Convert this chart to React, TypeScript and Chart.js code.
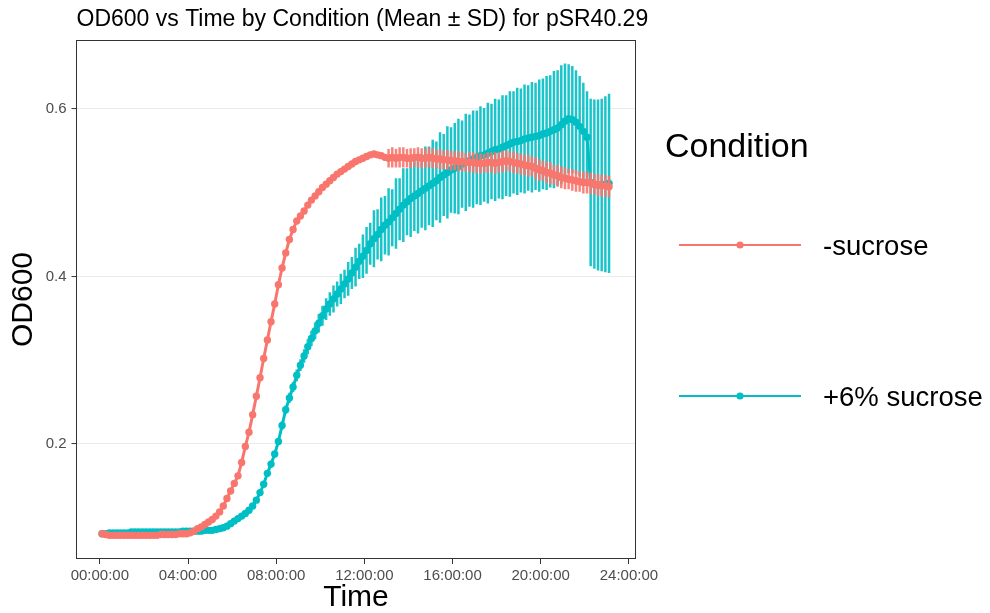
import React, { useEffect, useRef } from "react";
import { Chart, registerables } from "chart.js";

Chart.register(...registerables);

// ---- data (time in minutes since start, sampled every 10 min) ----
const TIME_MIN = [
  6, 16, 26, 36, 46, 56,
  66, 76, 86, 96, 106, 116,
  126, 136, 146, 156, 166, 176,
  186, 196, 206, 216, 226, 236,
  246, 256, 266, 276, 286, 296,
  306, 316, 326, 336, 346, 356,
  366, 376, 386, 396, 406, 416,
  426, 436, 446, 456, 466, 476,
  486, 496, 506, 516, 526, 536,
  546, 556, 566, 576, 586, 596,
  606, 616, 626, 636, 646, 656,
  666, 676, 686, 696, 706, 716,
  726, 736, 746, 756, 766, 776,
  786, 796, 806, 816, 826, 836,
  846, 856, 866, 876, 886, 896,
  906, 916, 926, 936, 946, 956,
  966, 976, 986, 996, 1006, 1016,
  1026, 1036, 1046, 1056, 1066, 1076,
  1086, 1096, 1106, 1116, 1126, 1136,
  1146, 1156, 1166, 1176, 1186, 1196,
  1206, 1216, 1226, 1236, 1246, 1256,
  1266, 1276, 1286, 1296, 1306, 1316,
  1326, 1336, 1346, 1356, 1366, 1376,
  1386,
];

const RED_MEAN = [
  0.093, 0.092, 0.091, 0.091, 0.091, 0.091,
  0.091, 0.091, 0.091, 0.091, 0.091, 0.091,
  0.091, 0.091, 0.091, 0.091, 0.092, 0.092,
  0.092, 0.092, 0.092, 0.093, 0.093, 0.093,
  0.094, 0.096, 0.099, 0.101, 0.104, 0.107,
  0.110, 0.114, 0.119, 0.126, 0.135, 0.144,
  0.153, 0.162, 0.178, 0.197, 0.214, 0.235,
  0.257, 0.279, 0.302, 0.324, 0.346, 0.367,
  0.390, 0.410, 0.428, 0.444, 0.456, 0.466,
  0.472, 0.478, 0.485, 0.491, 0.496, 0.501,
  0.506, 0.510, 0.514, 0.518, 0.522, 0.525,
  0.528, 0.531, 0.534, 0.537, 0.539, 0.541,
  0.543, 0.545, 0.546, 0.545, 0.544, 0.542,
  0.541, 0.542, 0.541, 0.542, 0.542, 0.541,
  0.541, 0.542, 0.542, 0.541, 0.541, 0.542,
  0.541, 0.540, 0.540, 0.539, 0.539, 0.538,
  0.538, 0.537, 0.537, 0.536, 0.536, 0.536,
  0.535, 0.535, 0.535, 0.536, 0.536, 0.535,
  0.536, 0.537, 0.538, 0.537, 0.536, 0.535,
  0.534, 0.533, 0.532, 0.531, 0.529, 0.527,
  0.526, 0.524, 0.523, 0.521, 0.520, 0.518,
  0.517, 0.516, 0.515, 0.514, 0.513, 0.512,
  0.512, 0.511, 0.510, 0.509, 0.508, 0.508,
  0.507,
];

const RED_SD = [
  0.001, 0.001, 0.001, 0.001, 0.001, 0.001,
  0.001, 0.001, 0.001, 0.001, 0.001, 0.001,
  0.001, 0.001, 0.001, 0.001, 0.001, 0.001,
  0.001, 0.001, 0.001, 0.001, 0.001, 0.001,
  0.002, 0.002, 0.002, 0.002, 0.002, 0.002,
  0.002, 0.002, 0.002, 0.002, 0.002, 0.002,
  0.002, 0.002, 0.002, 0.002, 0.002, 0.002,
  0.002, 0.002, 0.002, 0.002, 0.002, 0.002,
  0.002, 0.002, 0.002, 0.002, 0.002, 0.002,
  0.002, 0.002, 0.002, 0.002, 0.002, 0.002,
  0.002, 0.002, 0.002, 0.002, 0.002, 0.002,
  0.002, 0.002, 0.002, 0.002, 0.002, 0.002,
  0.002, 0.002, 0.003, 0.003, 0.003, 0.004,
  0.011, 0.012, 0.011, 0.012, 0.012, 0.011,
  0.012, 0.011, 0.012, 0.012, 0.011, 0.012,
  0.012, 0.011, 0.012, 0.011, 0.012, 0.012,
  0.011, 0.012, 0.012, 0.011, 0.012, 0.012,
  0.012, 0.012, 0.011, 0.012, 0.012, 0.013,
  0.012, 0.013, 0.012, 0.012, 0.013, 0.012,
  0.013, 0.012, 0.013, 0.012, 0.013, 0.013,
  0.012, 0.013, 0.013, 0.012, 0.013, 0.013,
  0.013, 0.012, 0.013, 0.013, 0.012, 0.013,
  0.013, 0.013, 0.012, 0.013, 0.013, 0.013,
  0.013,
];

const TEAL_MEAN = [
  0.093, 0.093, 0.094, 0.094, 0.094, 0.094,
  0.094, 0.094, 0.095, 0.095, 0.095, 0.095,
  0.095, 0.095, 0.095, 0.095, 0.095, 0.095,
  0.095, 0.095, 0.095, 0.095, 0.096, 0.096,
  0.096, 0.096, 0.096, 0.096, 0.097, 0.097,
  0.097, 0.098, 0.099, 0.100, 0.102, 0.105,
  0.108, 0.111, 0.114, 0.117, 0.121, 0.126,
  0.133, 0.142, 0.152, 0.165, 0.176, 0.188,
  0.203, 0.222, 0.241, 0.255, 0.268, 0.282,
  0.294, 0.305, 0.316, 0.326, 0.335, 0.344,
  0.353, 0.361, 0.367, 0.373, 0.379, 0.385,
  0.391, 0.397, 0.404, 0.411, 0.418, 0.424,
  0.431, 0.439, 0.445, 0.450, 0.456, 0.461,
  0.465, 0.470, 0.475, 0.480, 0.485, 0.489,
  0.493, 0.496, 0.499, 0.502, 0.505, 0.508,
  0.511, 0.514, 0.518, 0.521, 0.524, 0.527,
  0.529, 0.531, 0.534, 0.536, 0.538, 0.540,
  0.542, 0.544, 0.545, 0.547, 0.549, 0.551,
  0.552, 0.554, 0.556, 0.558, 0.560, 0.561,
  0.562, 0.564, 0.565, 0.566, 0.567, 0.568,
  0.570, 0.571, 0.573, 0.575, 0.577, 0.581,
  0.585, 0.588, 0.587, 0.584, 0.579, 0.573,
  0.566, 0.512, 0.510, 0.509, 0.509, 0.510,
  0.511,
];

const TEAL_SD = [
  0.002, 0.002, 0.002, 0.002, 0.002, 0.002,
  0.002, 0.002, 0.002, 0.002, 0.002, 0.002,
  0.002, 0.002, 0.002, 0.002, 0.002, 0.002,
  0.002, 0.002, 0.002, 0.002, 0.002, 0.002,
  0.002, 0.002, 0.002, 0.002, 0.002, 0.002,
  0.002, 0.002, 0.002, 0.002, 0.002, 0.002,
  0.002, 0.002, 0.002, 0.002, 0.002, 0.002,
  0.003, 0.003, 0.003, 0.004, 0.004, 0.004,
  0.004, 0.005, 0.005, 0.006, 0.006, 0.007,
  0.007, 0.008, 0.009, 0.009, 0.010, 0.011,
  0.012, 0.013, 0.014, 0.016, 0.015, 0.018,
  0.017, 0.020, 0.019, 0.023, 0.021, 0.026,
  0.028, 0.025, 0.034, 0.030, 0.038, 0.035,
  0.040, 0.034, 0.042, 0.037, 0.044, 0.040,
  0.046, 0.042, 0.048, 0.044, 0.050, 0.047,
  0.052, 0.047, 0.054, 0.049, 0.055, 0.051,
  0.054, 0.057, 0.052, 0.058, 0.055, 0.058,
  0.056, 0.059, 0.056, 0.060, 0.057, 0.061,
  0.059, 0.062, 0.060, 0.063, 0.061, 0.064,
  0.062, 0.065, 0.063, 0.066, 0.064, 0.067,
  0.066, 0.068, 0.067, 0.070, 0.069, 0.071,
  0.069, 0.065, 0.064, 0.062, 0.060, 0.058,
  0.055, 0.100, 0.101, 0.102, 0.103, 0.105,
  0.107,
];

const SERIES_NAMES = ["-sucrose", "+6% sucrose"];
const X_TICKS_MIN = [0, 240, 480, 720, 960, 1200, 1440];
const Y_TICKS = [0.2, 0.4, 0.6];
const TITLE = "OD600 vs Time by Condition (Mean \u00B1 SD) for pSR40.29";
const X_TITLE = "Time";
const Y_TITLE = "OD600";
const LEGEND_TITLE = "Condition";

const RED = "#F8766D";
const TEAL = "#00BFC4";
const FONT = "'Liberation Sans', Arial, Helvetica, sans-serif";

const fmtTime = (v: number) => {
  const h = Math.floor(v / 60);
  const m = Math.round(v - h * 60);
  return `${String(h).padStart(2, "0")}:${String(m).padStart(2, "0")}:00`;
};

const errorBarPlugin = {
  id: "errorBars",
  beforeDatasetDraw(chart: any, args: any) {
    const ds = chart.data.datasets[args.index];
    const sd: number[] | undefined = ds.sd;
    if (!sd) return;
    const xs = chart.scales.x;
    const ys = chart.scales.y;
    const { ctx, chartArea } = chart;
    ctx.save();
    ctx.beginPath();
    ctx.rect(chartArea.left, chartArea.top, chartArea.right - chartArea.left, chartArea.bottom - chartArea.top);
    ctx.clip();
    ctx.strokeStyle = ds.errorColor || ds.borderColor;
    ctx.lineWidth = 2.5;
    ctx.lineCap = "butt";
    ctx.beginPath();
    ds.data.forEach((p: any, i: number) => {
      const x = xs.getPixelForValue(p.x);
      const y1 = ys.getPixelForValue(p.y + sd[i]);
      const y2 = ys.getPixelForValue(p.y - sd[i]);
      ctx.moveTo(x, y1);
      ctx.lineTo(x, y2);
    });
    ctx.stroke();
    ctx.restore();
  },
};

const decorPlugin = {
  id: "decor",
  afterDatasetsDraw(chart: any) {
    const { ctx, chartArea } = chart;
    ctx.save();
    ctx.strokeStyle = "#333333";
    ctx.lineWidth = 1;
    const l = Math.round(chartArea.left) - 0.5;
    const t = Math.round(chartArea.top) + 0.5;
    const r = Math.round(chartArea.right) - 0.5;
    const b = Math.round(chartArea.bottom) - 0.5;
    ctx.strokeRect(l, t, r - l, b - t);
    ctx.restore();
  },
  afterDraw(chart: any) {
    const { ctx, chartArea } = chart;
    ctx.save();
    ctx.fillStyle = "#000000";
    ctx.textBaseline = "alphabetic";
    ctx.textAlign = "left";
    ctx.font = `23px ${FONT}`;
    ctx.fillText(TITLE, chartArea.left, 26);

    // legend
    ctx.font = `34px ${FONT}`;
    ctx.fillText(LEGEND_TITLE, 665, 157);
    const keys = [
      { name: SERIES_NAMES[0], color: RED, y: 245 },
      { name: SERIES_NAMES[1], color: TEAL, y: 396 },
    ];
    keys.forEach((k) => {
      ctx.strokeStyle = k.color;
      ctx.lineWidth = 2;
      ctx.beginPath();
      ctx.moveTo(679, k.y);
      ctx.lineTo(801, k.y);
      ctx.stroke();
      ctx.fillStyle = k.color;
      ctx.beginPath();
      ctx.arc(740, k.y, 3.6, 0, Math.PI * 2);
      ctx.fill();
      ctx.fillStyle = "#000000";
      ctx.font = `27.5px ${FONT}`;
      ctx.fillText(k.name, 823, k.y + 10);
    });
    ctx.restore();
  },
};

export default function App() {
  const ref = useRef<HTMLCanvasElement>(null);

  useEffect(() => {
    document.body.style.margin = "0";
    const canvas = ref.current;
    if (!canvas) return;
    const tickFont = { family: FONT, size: 15 };
    const chart = new Chart(canvas, {
      type: "line",
      data: {
        datasets: [
          {
            label: SERIES_NAMES[0],
            data: TIME_MIN.map((t, i) => ({ x: t, y: RED_MEAN[i] })),
            sd: RED_SD,
            errorColor: "rgba(248,118,109,0.9)",
            borderColor: RED,
            backgroundColor: RED,
            borderWidth: 3,
            pointRadius: 3.7,
            pointBorderWidth: 0,
            pointBackgroundColor: RED,
            tension: 0,
          } as any,
          {
            label: SERIES_NAMES[1],
            data: TIME_MIN.map((t, i) => ({ x: t, y: TEAL_MEAN[i] })),
            sd: TEAL_SD,
            errorColor: "rgba(0,191,196,0.9)",
            borderColor: TEAL,
            backgroundColor: TEAL,
            borderWidth: 3,
            pointRadius: 3.7,
            pointBorderWidth: 0,
            pointBackgroundColor: TEAL,
            tension: 0,
          } as any,
        ],
      },
      options: {
        animation: false,
        responsive: false,
        devicePixelRatio: 1,
        layout: { padding: { top: 40, right: 354.5, bottom: 0, left: 0 } },
        plugins: {
          legend: { display: false },
          title: { display: false },
          tooltip: { enabled: false },
        },
        scales: {
          x: {
            type: "linear",
            min: -63.5,
            max: 1458,
            afterBuildTicks: (s: any) => {
              s.ticks = X_TICKS_MIN.map((v) => ({ value: v }));
            },
            afterFit: (s: any) => {
              s.height = 54;
            },
            ticks: {
              callback: (v: any) => fmtTime(Number(v)),
              color: "#4D4D4D",
              font: tickFont,
              padding: 3,
              maxRotation: 0,
              autoSkip: false,
            },
            grid: {
              drawOnChartArea: false,
              drawTicks: true,
              tickLength: 5,
              tickColor: "#333333",
              tickWidth: 1,
            },
            border: { display: false },
            title: {
              display: true,
              text: X_TITLE,
              color: "#000000",
              font: { family: FONT, size: 30, lineHeight: 1 },
              padding: { top: 0, bottom: 0 },
            },
          },
          y: {
            type: "linear",
            min: 0.0628,
            max: 0.682,
            afterBuildTicks: (s: any) => {
              s.ticks = Y_TICKS.map((v) => ({ value: v }));
            },
            afterFit: (s: any) => {
              s.width = 76.5;
            },
            ticks: {
              callback: (v: any) => Number(v).toFixed(1),
              color: "#4D4D4D",
              font: tickFont,
              padding: 5,
            },
            grid: {
              color: "#EBEBEB",
              lineWidth: 1.1,
              drawTicks: true,
              tickLength: 5,
              tickColor: "#333333",
              tickWidth: 1,
            },
            border: { display: false },
            title: {
              display: true,
              text: Y_TITLE,
              color: "#000000",
              font: { family: FONT, size: 30, lineHeight: 1 },
              padding: { top: 9, bottom: 0 },
            },
          },
        },
      } as any,
      plugins: [errorBarPlugin, decorPlugin],
    });
    return () => chart.destroy();
  }, []);

  return (
    <div style={{ position: "fixed", left: 0, top: 0, width: 990, height: 613, background: "#ffffff" }}>
      <canvas ref={ref} width={990} height={613} style={{ display: "block", width: 990, height: 613 }} />
    </div>
  );
}
